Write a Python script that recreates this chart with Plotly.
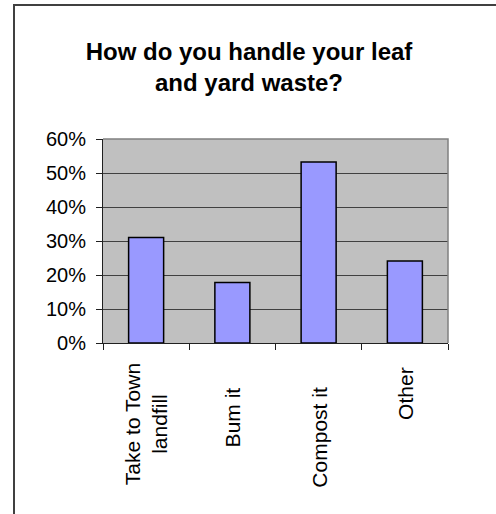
import plotly.graph_objects as go

# ---- data ----
categories = ["Take to Town<br>landfill", "Bum it", "Compost it", "Other"]
shares = [0.31, 0.178, 0.532, 0.241]
y_ticks = [0, 0.1, 0.2, 0.3, 0.4, 0.5, 0.6]
title_text = "How do you handle your leaf<br>and yard waste?"

# ---- layout geometry (pixels) ----
W, H = 496, 514
L, T = 103, 139
PW, PH = 345, 204
R, B = W - L - PW, H - T - PH


def px_to_paper_x(px):
    return (px - L) / PW


def py_to_paper_y(py):
    return (H - B - py) / PH


FONT = "Liberation Sans, Arial, sans-serif"

fig = go.Figure()
fig.add_trace(go.Bar(
    x=list(range(len(categories))),
    y=shares,
    marker=dict(color="#9999FF", line=dict(color="#000000", width=1.5)),
    hoverinfo="skip",
))

# category labels (rotated) placed on the category axis
label_center_py = [424, 417, 437, 393]
annotations = []
for i, cat in enumerate(categories):
    annotations.append(dict(
        x=i, xref="x",
        y=py_to_paper_y(label_center_py[i]), yref="paper",
        text=cat, textangle=-90, showarrow=False,
        xanchor="center", yanchor="middle",
        font=dict(family=FONT, size=21, color="#000000"),
    ))

shapes = [
    # gray plot-area frame (top & right)
    dict(type="path", xref="paper", yref="paper",
         path="M 0 1 L 1 1 L 1 0",
         line=dict(color="#808080", width=1.5), layer="above"),
    # outer chart frame
    dict(type="rect", xref="paper", yref="paper",
         x0=px_to_paper_x(14), x1=px_to_paper_x(510),
         y0=py_to_paper_y(525), y1=py_to_paper_y(5),
         line=dict(color="#404040", width=2), fillcolor="rgba(0,0,0,0)",
         layer="above"),
]

fig.update_layout(
    width=W, height=H,
    margin=dict(l=L, r=R, t=T, b=B, pad=0),
    paper_bgcolor="#FFFFFF",
    plot_bgcolor="#C0C0C0",
    showlegend=False,
    bargap=0.594,
    title=dict(
        text=title_text,
        font=dict(family=FONT, size=24, color="#000000", weight="bold"),
        x=249 / W, xref="container", xanchor="center",
        y=1 - 60 / H, yref="container", yanchor="middle",
    ),
    xaxis=dict(
        type="linear",
        range=[-0.5, len(categories) - 0.5],
        tickmode="array",
        tickvals=[i - 0.5 for i in range(len(categories) + 1)],
        showticklabels=False,
        ticks="outside", ticklen=6, tickwidth=1, tickcolor="#202020",
        showline=True, linecolor="#202020", linewidth=1,
        showgrid=False, zeroline=False, fixedrange=True,
    ),
    yaxis=dict(
        range=[0, 0.6],
        tickmode="array",
        tickvals=y_ticks,
        tickformat=".0%",
        ticks="outside", ticklen=6, tickwidth=1, tickcolor="#202020",
        ticklabelstandoff=6,
        tickfont=dict(family=FONT, size=20, color="#000000"),
        showline=True, linecolor="#202020", linewidth=1,
        showgrid=True, gridcolor="#404040", gridwidth=1,
        zeroline=False, fixedrange=True,
    ),
    annotations=annotations,
    shapes=shapes,
)

fig.write_html(
    "out.html",
    config={"displayModeBar": False, "staticPlot": True},
    post_script="document.body.style.margin='0px';document.body.style.overflow='hidden';",
)
